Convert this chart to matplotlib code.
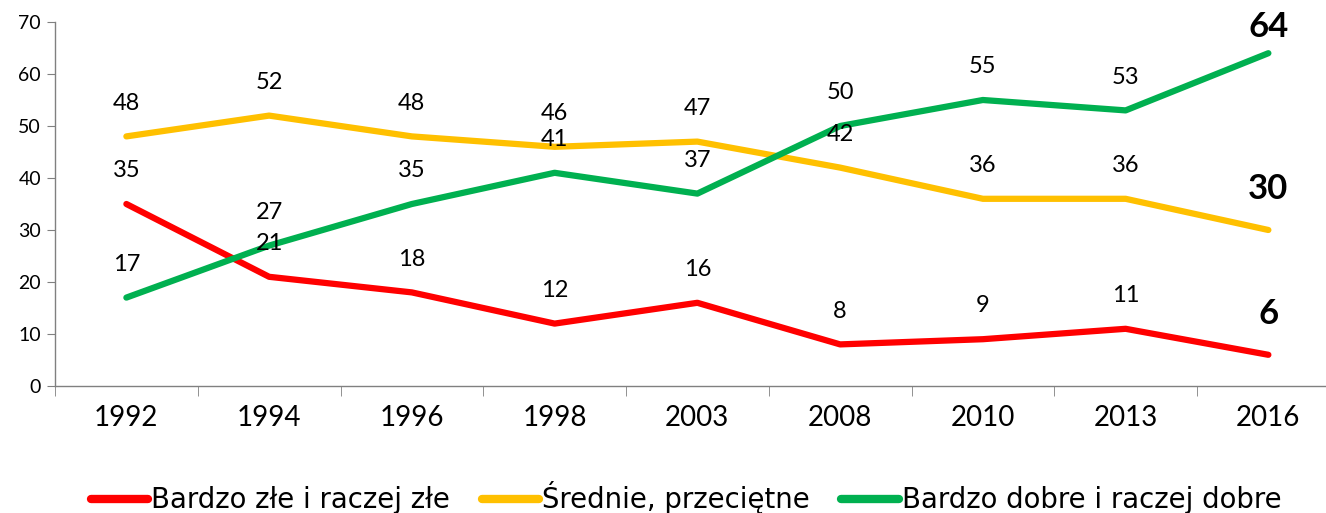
import matplotlib
matplotlib.use("Agg")
import matplotlib.pyplot as plt
import numpy as np

years = ["1992", "1994", "1996", "1998", "2003", "2008", "2010", "2013", "2016"]
bad = [35, 21, 18, 12, 16, 8, 9, 11, 6]
avg = [48, 52, 48, 46, 47, 42, 36, 36, 30]
good = [17, 27, 35, 41, 37, 50, 55, 53, 64]
series_names = ["Bardzo złe i raczej złe", "Średnie, przeciętne", "Bardzo dobre i raczej dobre"]
colors = ["#FF0000", "#FFC000", "#00B050"]

plt.rcParams['font.family'] = ['Lato', 'DejaVu Sans']

W, H = 1326, 513
fig = plt.figure(figsize=(W / 100, H / 100), dpi=100)
ax = fig.add_axes([55 / W, 127 / H, 1284.75 / W, 364 / H])

x = np.arange(len(years))
for vals, name, c in zip([bad, avg, good], series_names, colors):
    ax.plot(x, vals, color=c, lw=4.5, solid_capstyle='round', solid_joinstyle='round', label=name)
    for i, v in enumerate(vals):
        if i == len(vals) - 1:
            ax.text(x[i], min(v + 7.8, 69.0), str(v), ha='center', va='center',
                    fontsize=25, fontweight='bold', color='black')
        else:
            ax.annotate(str(v), (x[i], v), xytext=(0, 24), textcoords='offset points',
                        ha='center', va='center', fontsize=17, color='black')

ax.set_xlim(-0.5, len(years) - 0.5)
ax.set_ylim(0, 70)
ax.set_yticks(range(0, 71, 10))
ax.tick_params(axis='y', labelsize=14, length=6, color='#808080', pad=4)
ax.set_xticks(x)
ax.set_xticklabels(years)
ax.set_xticks(np.arange(-0.5, len(years) - 0.5, 1), minor=True)
ax.tick_params(axis='x', which='major', length=0, labelsize=20, pad=14)
ax.tick_params(axis='x', which='minor', length=7, color='#808080')
for s in ['top', 'right']:
    ax.spines[s].set_visible(False)
for s in ['left', 'bottom']:
    ax.spines[s].set_color('#808080')
    ax.spines[s].set_linewidth(1)

leg = fig.legend(loc='center', bbox_to_anchor=(686 / W, 1 - 498 / H), ncol=3, frameon=False,
                 prop={'family': 'DejaVu Sans', 'size': 19.8},
                 handlelength=2.1, handletextpad=0.1, columnspacing=1.15)
for h in leg.get_lines():
    h.set_linewidth(6)
    h.set_solid_capstyle('round')

fig.savefig("out.png", dpi=100)
